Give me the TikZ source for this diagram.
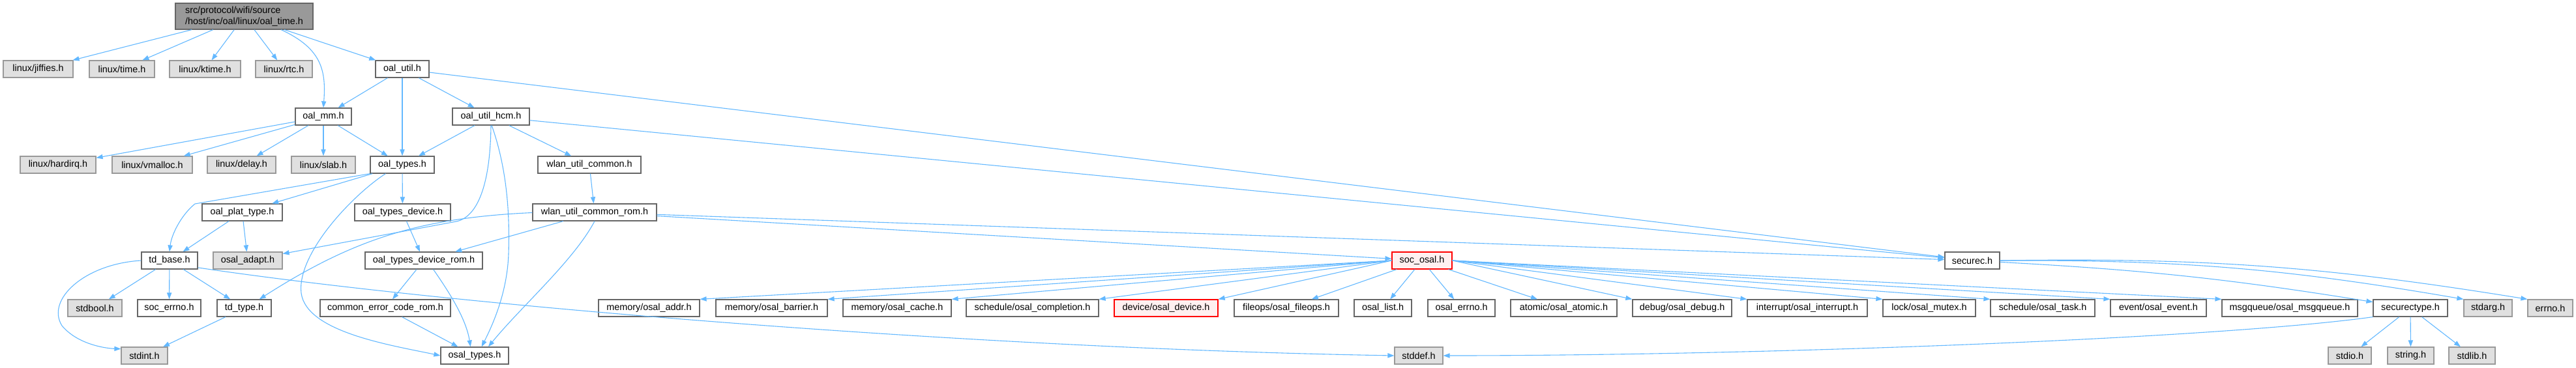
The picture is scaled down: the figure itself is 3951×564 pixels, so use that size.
\documentclass[tikz,border=0pt]{standalone}
\usepackage{fontspec}
\setmainfont{Liberation Sans}
\usetikzlibrary{positioning, arrows.meta}

\definecolor{edgeblue}{HTML}{63B8FF}
\definecolor{boxgray}{HTML}{666666}
\definecolor{sysgray}{HTML}{999999}
\definecolor{sysfill}{HTML}{E0E0E0}
\definecolor{rootfill}{HTML}{999999}
\definecolor{redfill}{HTML}{FFF0F0}

\begin{document}
\begin{tikzpicture}[x=0.5pt, y=-0.5pt,
    hfile/.style={draw=boxgray, fill=white, line width=0.6pt, inner sep=0pt,
      minimum height=13pt, font=\fontsize{7.2}{8.6}\selectfont},
    sysfile/.style={hfile, draw=sysgray, fill=sysfill},
    rootfile/.style={hfile, fill=rootfill, minimum height=20pt, align=left},
    redfile/.style={hfile, draw=red, fill=redfill},
    dep/.style={draw=edgeblue, line width=0.55pt, -{Triangle[length=5pt,width=3.6pt]}}]
  \useasboundingbox (0,0) rectangle (3951,564);

  % top file
  \node[rootfile, minimum width=105.5pt] (root) at (374.5,25) {src/protocol/wifi/source\\/host/inc/oal/linux/oal\_time.h};

  % level 1
  \node[sysfile, minimum width=53.5pt] (jiffies) at (58.5,106) {linux/jiffies.h};
  \node[sysfile, minimum width=50pt] (ltime) at (187,106) {linux/time.h};
  \node[sysfile, minimum width=54.5pt] (ktime) at (314.5,106) {linux/ktime.h};
  \node[sysfile, minimum width=43.5pt] (rtc) at (435.5,106) {linux/rtc.h};
  \node[hfile, minimum width=41pt] (oalutil) at (617,106) {oal\_util.h};

  % level 2
  \node[hfile, minimum width=43pt] (oalmm) at (496,179) {oal\_mm.h};
  \node[hfile, minimum width=59pt] (utilhcm) at (753,179) {oal\_util\_hcm.h};

  % level 3
  \node[sysfile, minimum width=58pt] (hardirq) at (89,253) {linux/hardirq.h};
  \node[sysfile, minimum width=61.5pt] (vmalloc) at (233.5,253) {linux/vmalloc.h};
  \node[sysfile, minimum width=52.5pt] (ldelay) at (370.5,253) {linux/delay.h};
  \node[sysfile, minimum width=49pt] (slab) at (496,253) {linux/slab.h};
  \node[hfile, minimum width=49pt] (oaltypes) at (617,253) {oal\_types.h};
  \node[hfile, minimum width=79pt] (wlancommon) at (904,253) {wlan\_util\_common.h};

  % level 4
  \node[hfile, minimum width=61.5pt] (plattype) at (371.5,326) {oal\_plat\_type.h};
  \node[hfile, minimum width=73.5pt] (typesdev) at (617.5,326) {oal\_types\_device.h};
  \node[hfile, minimum width=95pt] (wlanrom) at (912,326) {wlan\_util\_common\_rom.h};

  % level 5
  \node[hfile, minimum width=43pt] (tdbase) at (260,400) {td\_base.h};
  \node[sysfile, minimum width=53pt] (osaladapt) at (380,400) {osal\_adapt.h};
  \node[hfile, minimum width=90pt] (typesdevrom) at (650,400) {oal\_types\_device\_rom.h};
  \node[redfile, minimum width=46pt] (socosal) at (2181,400) {soc\_osal.h};
  \node[hfile, minimum width=42pt] (securec) at (3025,400) {securec.h};

  % level 6
  \node[sysfile, minimum width=41.5pt] (stdbool) at (145.5,473) {stdbool.h};
  \node[hfile, minimum width=48.5pt] (socerrno) at (259.5,473) {soc\_errno.h};
  \node[hfile, minimum width=41.5pt] (tdtype) at (374.5,473) {td\_type.h};
  \node[hfile, minimum width=100pt] (errcoderom) at (591,473) {common\_error\_code\_rom.h};
  \node[hfile, minimum width=77.5pt] (memaddr) at (995.5,473) {memory/osal\_addr.h};
  \node[hfile, minimum width=85.5pt] (membarrier) at (1183.5,473) {memory/osal\_barrier.h};
  \node[hfile, minimum width=83pt] (memcache) at (1376,473) {memory/osal\_cache.h};
  \node[hfile, minimum width=101.5pt] (schedcompl) at (1583.5,473) {schedule/osal\_completion.h};
  \node[redfile, minimum width=79.5pt] (osaldevice) at (1788.5,473) {device/osal\_device.h};
  \node[hfile, minimum width=80pt] (fileops) at (1973,473) {fileops/osal\_fileops.h};
  \node[hfile, minimum width=44pt] (osallist) at (2121,473) {osal\_list.h};
  \node[hfile, minimum width=51.5pt] (osalerrno) at (2241.5,473) {osal\_errno.h};
  \node[hfile, minimum width=81.5pt] (atomic) at (2398.5,473) {atomic/osal\_atomic.h};
  \node[hfile, minimum width=76pt] (osaldebug) at (2580,473) {debug/osal\_debug.h};
  \node[hfile, minimum width=92pt] (interrupt) at (2772,473) {interrupt/osal\_interrupt.h};
  \node[hfile, minimum width=71pt] (mutex) at (2959,473) {lock/osal\_mutex.h};
  \node[hfile, minimum width=80pt] (schedtask) at (3133,473) {schedule/osal\_task.h};
  \node[hfile, minimum width=73.5pt] (osalevent) at (3310.5,473) {event/osal\_event.h};
  \node[hfile, minimum width=104pt] (msgqueue) at (3512,473) {msgqueue/osal\_msgqueue.h};
  \node[hfile, minimum width=57pt] (securectype) at (3697,473) {securectype.h};
  \node[sysfile, minimum width=37pt] (stdarg) at (3816,473) {stdarg.h};
  \node[sysfile, minimum width=34.5pt] (errnoh) at (3911.5,473) {errno.h};

  % level 7
  \node[sysfile, minimum width=35.5pt] (stdint) at (221.5,546) {stdint.h};
  \node[hfile, minimum width=52pt] (osaltypes) at (728,546) {osal\_types.h};
  \node[sysfile, minimum width=37pt] (stddef) at (2176,546) {stddef.h};
  \node[sysfile, minimum width=33pt] (stdio) at (3604,546) {stdio.h};
  \node[sysfile, minimum width=35.5pt] (stringh) at (3697.5,546) {string.h};
  \node[sysfile, minimum width=35.5pt] (stdlib) at (3791.5,546) {stdlib.h};

  % straight includes
  \foreach \a/\b in {root/jiffies, root/ltime, root/ktime, root/rtc, root/oalutil,
      oalutil/oalmm, oalutil/oaltypes, oalutil/utilhcm, oalutil/securec,
      oalmm/hardirq, oalmm/vmalloc, oalmm/ldelay, oalmm/slab, oalmm/oaltypes,
      utilhcm/oaltypes, utilhcm/wlancommon, utilhcm/securec,
      oaltypes/plattype, oaltypes/typesdev, wlancommon/wlanrom,
      plattype/tdbase, plattype/osaladapt, typesdev/typesdevrom,
      wlanrom/typesdevrom, wlanrom/securec, wlanrom/socosal,
      typesdevrom/errcoderom, errcoderom/osaltypes,
      tdbase/stdbool, tdbase/socerrno, tdbase/tdtype, tdtype/stdint,
      securectype/stdio, securectype/stringh, securectype/stdlib}
    \draw[dep] (\a) -- (\b);
  % soc_osal fan-out
  \foreach \b in {memaddr, membarrier, memcache, schedcompl, osaldevice}
    \draw[dep] (socosal.west) -- (\b.north east);
  \foreach \b in {fileops, osallist, osalerrno, atomic}
    \draw[dep] (socosal) -- (\b);
  \foreach \b in {osaldebug, interrupt, mutex, schedtask, osalevent, msgqueue}
    \draw[dep] (socosal.east) -- (\b.north west);
  \draw[dep] (securec) to[bend left=3] (securectype);
  \foreach \b in {stdarg, errnoh}
    \draw[dep] (securec.east) to[bend left=5] (\b.north west);

  % curved includes
  \draw[dep] (root.-20) .. controls (495,75) and (500,110) .. (oalmm.north);
  \draw[dep] (oaltypes.south west) -- (299,313) .. controls (278,330) and (263,360) .. (tdbase.north);
  \draw[dep] (oaltypes.-152) .. controls (540,300) and (455,390) .. (462,450)
    .. controls (470,510) and (600,530) .. (osaltypes.west);
  \draw[dep] (utilhcm.south) .. controls (752,285) and (732,333) .. (700,340) -- (osaladapt.11);
  \draw[dep] (utilhcm.-85) .. controls (778,260) and (782,330) .. (780,390)
    .. controls (778,450) and (755,500) .. (osaltypes.52);
  \draw[dep] (wlanrom.south) .. controls (880,400) and (800,470) .. (osaltypes.33);
  \draw[dep] (typesdevrom.-43) .. controls (690,450) and (715,490) .. (osaltypes.115);
  \draw[dep] (wlanrom) to[bend right=15] (tdtype);
  \draw[dep] (tdbase.west) .. controls (130,405) and (70,460) .. (95,500)
    .. controls (120,530) and (165,535) .. (stdint.164);
  \draw[dep] (tdbase.-14) .. controls (700,470) and (1500,535) .. (stddef.west);
  \draw[dep] (securectype.south west) .. controls (3400,520) and (2700,546) .. (stddef.east);
\end{tikzpicture}
\end{document}
